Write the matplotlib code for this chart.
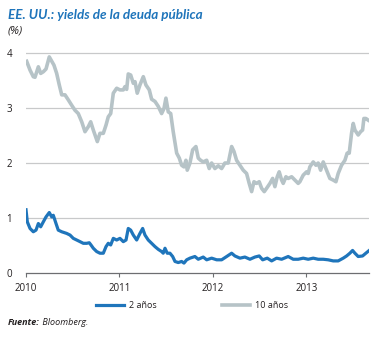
import numpy as np
import matplotlib
matplotlib.use("Agg")
import matplotlib.pyplot as plt

# fractional years and yields (%), US Treasuries
t_10y = [0.007, 0.043, 0.078, 0.096, 0.132, 0.157, 0.185, 0.214, 0.249, 0.275,
         0.299, 0.328, 0.356, 0.382, 0.417, 0.452, 0.489, 0.524, 0.559, 0.596,
         0.631, 0.666, 0.692, 0.720, 0.763, 0.791, 0.827, 0.856, 0.880, 0.906,
         0.934, 0.970, 1.005, 1.041, 1.059, 1.077, 1.094, 1.120, 1.148, 1.166,
         1.190, 1.219, 1.255, 1.283, 1.319, 1.344, 1.380, 1.415, 1.451, 1.476,
         1.497, 1.522, 1.548, 1.575, 1.612, 1.640, 1.665, 1.690, 1.711, 1.725,
         1.754, 1.783, 1.818, 1.843, 1.868, 1.896, 1.933, 1.960, 1.986, 2.021,
         2.057, 2.093, 2.128, 2.164, 2.200, 2.225, 2.253, 2.289, 2.324, 2.360,
         2.388, 2.414, 2.439, 2.467, 2.495, 2.521, 2.549, 2.574, 2.610, 2.639,
         2.663, 2.688, 2.709, 2.735, 2.752, 2.781, 2.805, 2.842, 2.877, 2.912,
         2.930, 2.966, 3.002, 3.019, 3.037, 3.073, 3.102, 3.126, 3.152, 3.180,
         3.216, 3.251, 3.287, 3.316, 3.340, 3.376, 3.412, 3.436, 3.458, 3.483,
         3.501, 3.519, 3.554, 3.580, 3.601, 3.615, 3.636, 3.661]
y_10y = [3.85, 3.69, 3.57, 3.56, 3.75, 3.63, 3.66, 3.71, 3.93, 3.85,
         3.78, 3.63, 3.42, 3.24, 3.24, 3.15, 3.05, 2.96, 2.90, 2.75,
         2.57, 2.66, 2.75, 2.60, 2.39, 2.54, 2.54, 2.69, 2.84, 2.90,
         3.27, 3.36, 3.33, 3.33, 3.39, 3.34, 3.62, 3.60, 3.45, 3.48,
         3.27, 3.42, 3.57, 3.42, 3.33, 3.16, 3.12, 3.03, 2.90, 2.99,
         3.18, 2.93, 2.90, 2.57, 2.18, 2.09, 1.96, 1.93, 2.05, 1.87,
         2.00, 2.24, 2.30, 2.09, 2.05, 2.02, 2.05, 1.90, 2.00, 1.90,
         1.95, 1.90, 2.00, 2.00, 2.30, 2.21, 2.05, 1.96, 1.87, 1.81,
         1.63, 1.48, 1.66, 1.63, 1.66, 1.54, 1.48, 1.54, 1.63, 1.72,
         1.57, 1.75, 1.84, 1.69, 1.63, 1.75, 1.72, 1.75, 1.69, 1.63,
         1.66, 1.78, 1.84, 1.81, 1.93, 2.02, 1.96, 2.00, 1.87, 2.02,
         1.87, 1.72, 1.69, 1.66, 1.81, 1.96, 2.05, 2.18, 2.18, 2.54,
         2.72, 2.60, 2.51, 2.57, 2.60, 2.81, 2.81, 2.78]

t_2y = [0.000, 0.014, 0.043, 0.078, 0.107, 0.132, 0.157, 0.185, 0.214, 0.249,
        0.275, 0.292, 0.321, 0.345, 0.382, 0.435, 0.471, 0.506, 0.542, 0.578,
        0.613, 0.649, 0.677, 0.695, 0.720, 0.756, 0.791, 0.827, 0.856, 0.880,
        0.906, 0.934, 0.970, 1.005, 1.041, 1.070, 1.094, 1.120, 1.148, 1.184,
        1.219, 1.248, 1.273, 1.308, 1.344, 1.380, 1.415, 1.451, 1.468, 1.487,
        1.511, 1.540, 1.569, 1.594, 1.629, 1.665, 1.690, 1.719, 1.754, 1.807,
        1.843, 1.896, 1.933, 1.986, 2.040, 2.093, 2.147, 2.200, 2.235, 2.289,
        2.342, 2.396, 2.449, 2.495, 2.532, 2.581, 2.628, 2.681, 2.735, 2.805,
        2.859, 2.912, 2.966, 3.019, 3.073, 3.126, 3.180, 3.233, 3.287, 3.340,
        3.394, 3.430, 3.465, 3.494, 3.519, 3.554, 3.601, 3.636, 3.672]
y_2y = [1.15, 0.93, 0.81, 0.75, 0.78, 0.90, 0.84, 0.93, 1.02, 1.10,
        1.02, 1.05, 0.90, 0.78, 0.75, 0.72, 0.69, 0.63, 0.60, 0.57,
        0.54, 0.54, 0.55, 0.51, 0.45, 0.39, 0.36, 0.36, 0.48, 0.54,
        0.51, 0.63, 0.60, 0.63, 0.57, 0.60, 0.81, 0.78, 0.69, 0.60,
        0.72, 0.81, 0.69, 0.60, 0.54, 0.48, 0.43, 0.39, 0.36, 0.45,
        0.36, 0.36, 0.30, 0.21, 0.19, 0.21, 0.18, 0.24, 0.27, 0.30,
        0.25, 0.29, 0.24, 0.27, 0.24, 0.24, 0.30, 0.36, 0.31, 0.27,
        0.29, 0.25, 0.29, 0.31, 0.24, 0.27, 0.22, 0.27, 0.25, 0.30,
        0.25, 0.25, 0.27, 0.25, 0.27, 0.25, 0.25, 0.24, 0.22, 0.22,
        0.27, 0.31, 0.36, 0.41, 0.36, 0.30, 0.31, 0.36, 0.41]

start_year = 2010
years = [2010, 2011, 2012, 2013]
y_ticks = [0, 1, 2, 3, 4]

BLUE = "#1f75bb"
GREY = "#b6c3c7"
TEXT = "#231f20"

plt.rcParams["font.family"] = ["Open Sans", "DejaVu Sans"]

fig = plt.figure(figsize=(3.9, 3.38), dpi=100)
ax = fig.add_axes([0.0667, 0.1923, 0.880, 0.667])

x_10y = start_year + np.array(t_10y)
x_2y = start_year + np.array(t_2y)

ax.plot(x_10y, y_10y, color=GREY, lw=2.6, solid_joinstyle="round",
        label="10 años", zorder=3)
ax.plot(x_2y, y_2y, color=BLUE, lw=2.3, solid_joinstyle="round",
        label="2 años", zorder=4)

ax.set_xlim(start_year, x_2y[-1])
ax.set_ylim(0, 4.1)
ax.set_xticks(years)
ax.set_xticklabels([str(y) for y in years])
ax.set_yticks(y_ticks)

for side in ["top", "right", "left"]:
    ax.spines[side].set_visible(False)
ax.spines["bottom"].set_color("#6d6e71")
ax.spines["bottom"].set_linewidth(0.9)

for v in y_ticks[1:]:
    ax.axhline(v, color="#c8c9ca", lw=0.9, zorder=1)

ax.tick_params(axis="x", direction="out", length=3, width=0.8,
               color="#6d6e71", labelsize=7, labelcolor=TEXT, pad=4)
ax.tick_params(axis="y", length=0, labelsize=7, labelcolor=TEXT, pad=10)

fig.text(0.02, 0.955, "EE. UU.: yields de la deuda pública", color=BLUE,
         fontsize=9.7, fontweight="bold", fontstyle="italic",
         family=["Lato", "DejaVu Sans"], va="center")
fig.text(0.02, 0.907, "(%)", color=TEXT, fontsize=8, fontstyle="italic",
         va="center")

handles, labels = ax.get_legend_handles_labels()
leg = fig.legend(handles[::-1], labels[::-1], loc="center left",
                 bbox_to_anchor=(0.225, 0.097), ncol=2, frameon=False,
                 fontsize=6.5, handlelength=3.1, handletextpad=0.6,
                 columnspacing=7.2, labelcolor=TEXT)

src = fig.text(0.02, 0.038, "Fuente:", color=TEXT, fontsize=6.5,
               fontweight="bold", fontstyle="italic", va="baseline")
ax.annotate(" Bloomberg.", xy=(1, 0), xycoords=src, color=TEXT,
            fontsize=6.5, fontstyle="italic", va="bottom", ha="left",
            annotation_clip=False)

fig.savefig("out.png", dpi=100)
